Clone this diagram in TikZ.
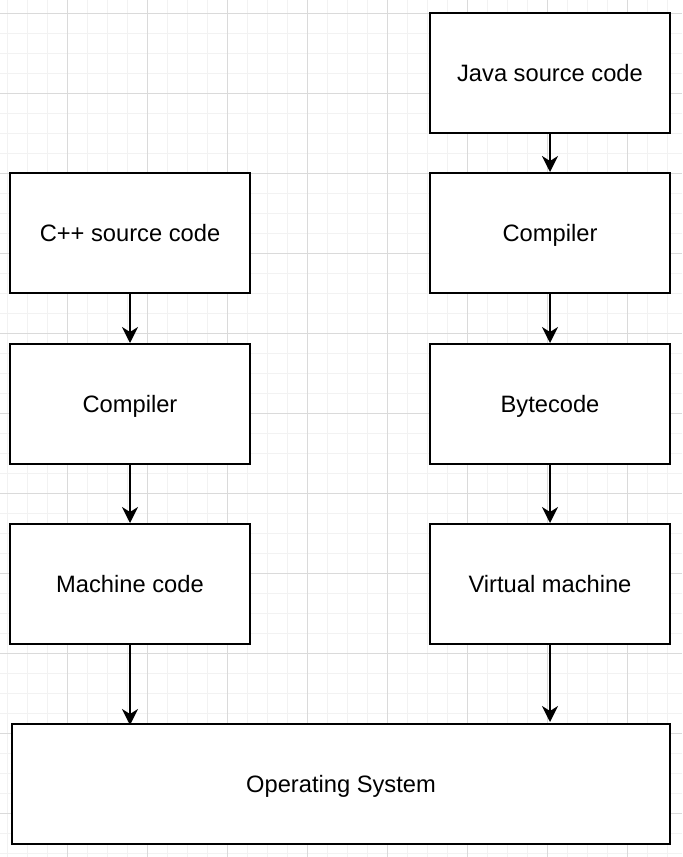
\documentclass[tikz,border=0pt]{standalone}
\usepackage{fontspec}
\setmainfont{Liberation Sans}
\usepackage{tikz}
\usetikzlibrary{arrows.meta,calc,positioning}
\definecolor{gridminor}{HTML}{F2F2F2}
\definecolor{gridmajor}{HTML}{DADADA}

\begin{document}
\begin{tikzpicture}[x=0.5pt, y=-0.5pt,
    box/.style={draw, line width=1pt, fill=white, minimum width=120pt, minimum height=60pt, inner sep=0pt, text height=0.84em, text depth=0em, font=\fontsize{11.85}{14}\selectfont},
    flow/.style={line width=1pt, -{Stealth[length=8pt, width=8pt, inset=2.5pt]}}]
    \useasboundingbox (0,0) rectangle (682,857);
    \fill[white] (0,0) rectangle (682,857);
    % Background grid
    \foreach \gx in {7,27,...,687} \draw[gridminor, line width=0.5pt] (\gx,0) -- (\gx,857);
    \foreach \gy in {13,33,...,853} \draw[gridminor, line width=0.5pt] (0,\gy) -- (682,\gy);
    \foreach \gx in {67,147,...,627} \draw[gridmajor, line width=0.5pt] (\gx,0) -- (\gx,857);
    \foreach \gy in {13,93,...,813} \draw[gridmajor, line width=0.5pt] (0,\gy) -- (682,\gy);

    % LEFT: C++ chain
    \node[box] (cppsrc) at (130,233) {C++ source code};
    \node[box] (cppcomp) at (130,404) {Compiler};
    \node[box] (machine) at (130,584) {Machine code};

    % RIGHT: Java chain
    \node[box] (javasrc) at (550,73) {Java source code};
    \node[box] (javacomp) at (550,233) {Compiler};
    \node[box] (bytecode) at (550,404) {Bytecode};
    \node[box] (vm) at (550,584) {Virtual machine};

    % BOTTOM: Operating system
    \node[box, minimum width=329pt] (os) at (341,784) {Operating System};

    % Arrows
    \draw[flow] (cppsrc) -- (cppcomp);
    \draw[flow] (cppcomp) -- (machine);
    \draw[flow] (machine.south) -- ($(machine.south |- os.north)+(0,2)$);
    \draw[flow] (javasrc) -- (javacomp);
    \draw[flow] (javacomp) -- (bytecode);
    \draw[flow] (bytecode) -- (vm);
    \draw[flow] (vm.south) -- ($(vm.south |- os.north)+(0,-1)$);
\end{tikzpicture}
\end{document}
